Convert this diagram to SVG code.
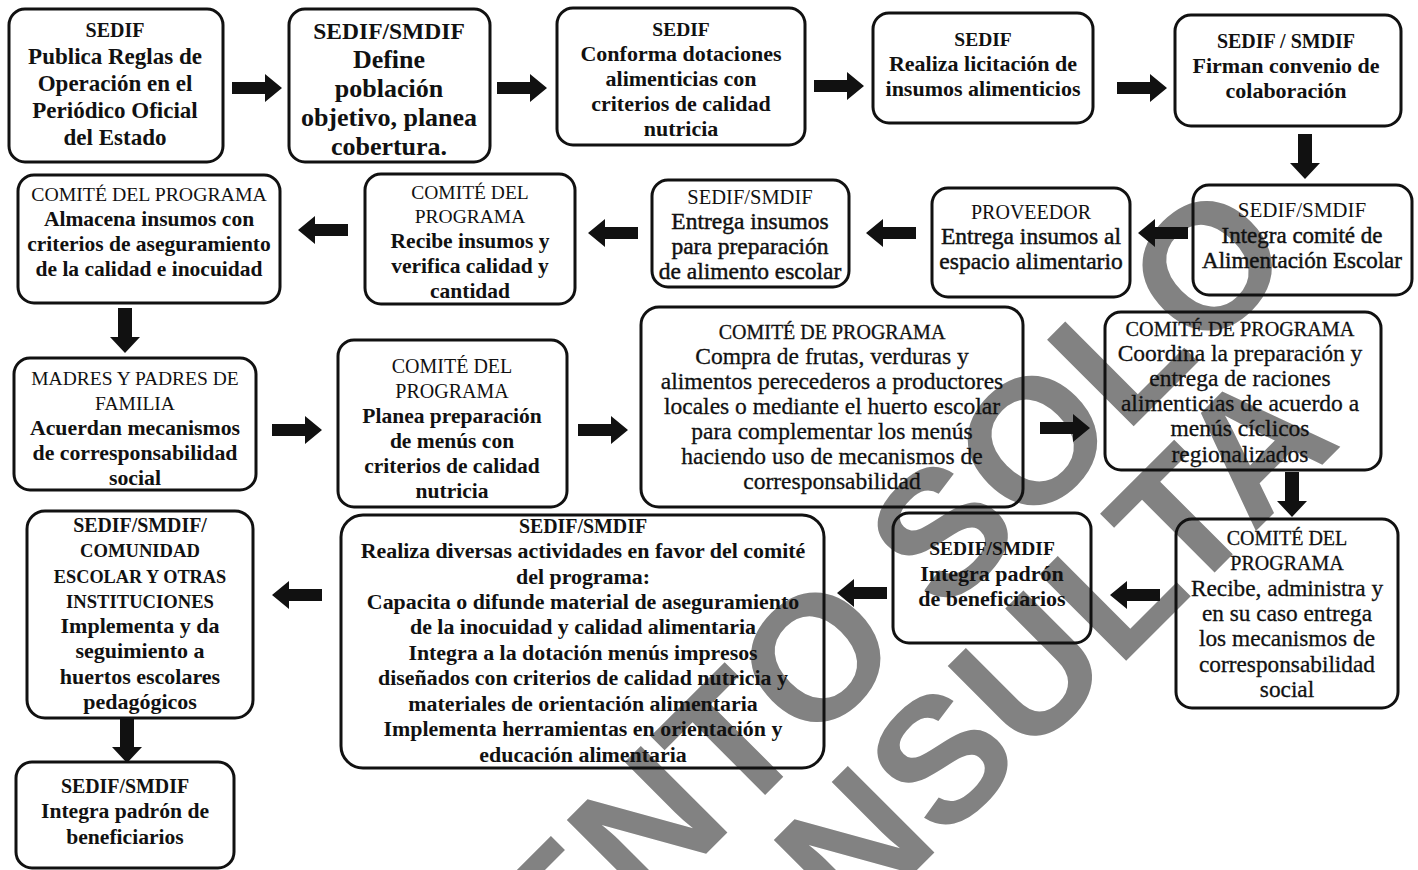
<svg xmlns="http://www.w3.org/2000/svg" xmlns:xlink="http://www.w3.org/1999/xlink" width="1418" height="870" viewBox="0 0 1418 870">
<style>
.box{fill:none;stroke:#111;stroke-width:3}
.t{font-family:'Liberation Serif','Times New Roman',serif;text-anchor:middle;fill:#111}
.b{font-weight:bold}
.r{font-weight:normal}
.m{stroke:#111;stroke-width:0.45}
.n{stroke:#111;stroke-width:0.3}
.wm{font-family:'Liberation Sans',Arial,sans-serif;font-weight:bold;font-size:178px;fill:#828282}
.arr{fill:#111}
</style>
<defs>
<path id="ah" d="M0,-6 H33 V-14 L50,0 L33,14 V6 H0 Z"/>
<path id="av" d="M0,-7 H29 V-15 L45,0 L29,15 V7 H0 Z"/>
</defs>
<rect width="1418" height="870" fill="#fff"/>
<g id="watermark">
<text class="wm" transform="translate(561,999) rotate(-45)">ENTO SOLO</text>
<text class="wm" transform="translate(852,935) rotate(-45)">NSULTA</text>
</g>
<g id="connectors" class="arr">
<use xlink:href="#ah" transform="translate(232,88)"/>
<use xlink:href="#ah" transform="translate(497,88)"/>
<use xlink:href="#ah" transform="translate(814,86)"/>
<use xlink:href="#ah" transform="translate(1117,88)"/>
<use xlink:href="#av" transform="translate(1305,134) rotate(90)"/>
<use xlink:href="#ah" transform="translate(1188,233) rotate(180)"/>
<use xlink:href="#ah" transform="translate(916,233) rotate(180)"/>
<use xlink:href="#ah" transform="translate(638,233) rotate(180)"/>
<use xlink:href="#ah" transform="translate(348,230) rotate(180)"/>
<use xlink:href="#av" transform="translate(125,308) rotate(90)"/>
<use xlink:href="#ah" transform="translate(272,430)"/>
<use xlink:href="#ah" transform="translate(578,430)"/>
<use xlink:href="#ah" transform="translate(1040,428)"/>
<use xlink:href="#av" transform="translate(1292,472) rotate(90)"/>
<use xlink:href="#ah" transform="translate(1160,595) rotate(180)"/>
<use xlink:href="#ah" transform="translate(887,593) rotate(180)"/>
<use xlink:href="#ah" transform="translate(322,595) rotate(180)"/>
<use xlink:href="#av" transform="translate(127,718) rotate(90)"/>
</g>
<g id="n1">
<rect class="box" x="9" y="9" width="214" height="153" rx="16"/>
<text class="t b" font-size="23"><tspan x="115" y="37" font-size="20">SEDIF</tspan><tspan x="115" y="64">Publica Reglas de</tspan><tspan x="115" y="91">Operación en el</tspan><tspan x="115" y="118">Periódico Oficial</tspan><tspan x="115" y="145">del Estado</tspan></text>
</g>
<g id="n2">
<rect class="box" x="289" y="9" width="201" height="153" rx="16"/>
<text class="t b" font-size="26"><tspan x="389" y="39" font-size="23.5">SEDIF/SMDIF</tspan><tspan x="389" y="68">Define</tspan><tspan x="389" y="97">población</tspan><tspan x="389" y="126">objetivo, planea</tspan><tspan x="389" y="155">cobertura.</tspan></text>
</g>
<g id="n3">
<rect class="box" x="557" y="8" width="248" height="137" rx="16"/>
<text class="t b" font-size="22"><tspan x="681" y="36" font-size="19.5">SEDIF</tspan><tspan x="681" y="61">Conforma dotaciones</tspan><tspan x="681" y="86">alimenticias con</tspan><tspan x="681" y="111">criterios de calidad</tspan><tspan x="681" y="136">nutricia</tspan></text>
</g>
<g id="n4">
<rect class="box" x="873" y="13" width="220" height="110" rx="16"/>
<text class="t b" font-size="22"><tspan x="983" y="46" font-size="19.5">SEDIF</tspan><tspan x="983" y="71">Realiza licitación de</tspan><tspan x="983" y="96">insumos alimenticios</tspan></text>
</g>
<g id="n5">
<rect class="box" x="1175" y="15" width="226" height="111" rx="16"/>
<text class="t b" font-size="22"><tspan x="1286" y="48" font-size="20">SEDIF / SMDIF</tspan><tspan x="1286" y="73">Firman convenio de</tspan><tspan x="1286" y="98">colaboración</tspan></text>
</g>
<g id="n6">
<rect class="box" x="1193" y="185" width="219" height="110" rx="16"/>
<text class="t r" font-size="23"><tspan x="1302" y="217" font-size="21">SEDIF/SMDIF</tspan><tspan x="1302" y="243" class="m">Integra comité de</tspan><tspan x="1302" y="268" class="m">Alimentación Escolar</tspan></text>
</g>
<g id="n7">
<rect class="box" x="932" y="188" width="198" height="109" rx="16"/>
<text class="t r" font-size="23.5"><tspan x="1031" y="219" font-size="20">PROVEEDOR</tspan><tspan x="1031" y="244" class="m">Entrega insumos al</tspan><tspan x="1031" y="269" class="m">espacio alimentario</tspan></text>
</g>
<g id="n8">
<rect class="box" x="652" y="180" width="197" height="107" rx="16"/>
<text class="t r" font-size="23.5"><tspan x="750" y="204" font-size="20.5">SEDIF/SMDIF</tspan><tspan x="750" y="229" class="m">Entrega insumos</tspan><tspan x="750" y="254" class="m">para preparación</tspan><tspan x="750" y="279" class="m">de alimento escolar</tspan></text>
</g>
<g id="n9">
<rect class="box" x="365" y="174" width="210" height="130" rx="16"/>
<text class="t b" font-size="21.5"><tspan x="470" y="199" font-size="19.5" class="r">COMITÉ DEL</tspan><tspan x="470" y="223" font-size="19.5" class="r">PROGRAMA</tspan><tspan x="470" y="248">Recibe insumos y</tspan><tspan x="470" y="273">verifica calidad y</tspan><tspan x="470" y="298">cantidad</tspan></text>
</g>
<g id="n10">
<rect class="box" x="18" y="175" width="262" height="128" rx="16"/>
<text class="t b" font-size="21.5"><tspan x="149" y="201" font-size="19.8" class="r">COMITÉ DEL PROGRAMA</tspan><tspan x="149" y="226">Almacena insumos con</tspan><tspan x="149" y="251">criterios de aseguramiento</tspan><tspan x="149" y="276">de la calidad e inocuidad</tspan></text>
</g>
<g id="n11">
<rect class="box" x="14" y="358" width="242" height="132" rx="16"/>
<text class="t b" font-size="21.8"><tspan x="135" y="385" font-size="19.5" class="r">MADRES Y PADRES DE</tspan><tspan x="135" y="410" font-size="19.5" class="r">FAMILIA</tspan><tspan x="135" y="435">Acuerdan mecanismos</tspan><tspan x="135" y="460">de corresponsabilidad</tspan><tspan x="135" y="485">social</tspan></text>
</g>
<g id="n12">
<rect class="box" x="338" y="340" width="229" height="167" rx="16"/>
<text class="t b" font-size="21.5"><tspan x="452" y="373" font-size="20" class="r">COMITÉ DEL</tspan><tspan x="452" y="398" font-size="20" class="r">PROGRAMA</tspan><tspan x="452" y="423">Planea preparación</tspan><tspan x="452" y="448">de menús con</tspan><tspan x="452" y="473">criterios de calidad</tspan><tspan x="452" y="498">nutricia</tspan></text>
</g>
<g id="n13">
<rect class="box" x="641" y="307" width="382" height="200" rx="18"/>
<text class="t r n" font-size="23.5"><tspan x="832" y="339" font-size="20">COMITÉ DE PROGRAMA</tspan><tspan x="832" y="364">Compra de frutas, verduras y</tspan><tspan x="832" y="389">alimentos perecederos a productores</tspan><tspan x="832" y="414">locales o mediante el huerto escolar</tspan><tspan x="832" y="439">para complementar los menús</tspan><tspan x="832" y="464">haciendo uso de mecanismos de</tspan><tspan x="832" y="489">corresponsabilidad</tspan></text>
</g>
<g id="n14">
<rect class="box" x="1105" y="312" width="276" height="158" rx="16"/>
<text class="t r n" font-size="23.5"><tspan x="1240" y="336" font-size="20.2">COMITÉ DE PROGRAMA</tspan><tspan x="1240" y="361">Coordina la preparación y</tspan><tspan x="1240" y="386">entrega de raciones</tspan><tspan x="1240" y="411">alimenticias de acuerdo a</tspan><tspan x="1240" y="436">menús cíclicos</tspan><tspan x="1240" y="462">regionalizados</tspan></text>
</g>
<g id="n15">
<rect class="box" x="1176" y="519" width="222" height="189" rx="16"/>
<text class="t r n" font-size="23.3"><tspan x="1287" y="545" font-size="20">COMITÉ DEL</tspan><tspan x="1287" y="570" font-size="20">PROGRAMA</tspan><tspan x="1287" y="596">Recibe, administra y</tspan><tspan x="1287" y="621">en su caso entrega</tspan><tspan x="1287" y="646">los mecanismos de</tspan><tspan x="1287" y="672">corresponsabilidad</tspan><tspan x="1287" y="697">social</tspan></text>
</g>
<g id="n16">
<rect class="box" x="893" y="513" width="198" height="130" rx="16"/>
<text class="t b" font-size="22"><tspan x="992" y="555" font-size="19.5">SEDIF/SMDIF</tspan><tspan x="992" y="581">Integra padrón</tspan><tspan x="992" y="606">de beneficiarios</tspan></text>
</g>
<g id="n17">
<rect class="box" x="341" y="515" width="483" height="253" rx="22"/>
<text class="t b" font-size="21.9"><tspan x="583" y="533" font-size="19.9">SEDIF/SMDIF</tspan><tspan x="583" y="558">Realiza diversas actividades en favor del comité</tspan><tspan x="583" y="584">del programa:</tspan><tspan x="583" y="609">Capacita o difunde material de aseguramiento</tspan><tspan x="583" y="634">de la inocuidad y calidad alimentaria</tspan><tspan x="583" y="660">Integra a la dotación menús impresos</tspan><tspan x="583" y="685">diseñados con criterios de calidad nutricia y</tspan><tspan x="583" y="711">materiales de orientación alimentaria</tspan><tspan x="583" y="736">Implementa herramientas en orientación y</tspan><tspan x="583" y="762">educación alimentaria</tspan></text>
</g>
<g id="n18">
<rect class="box" x="27" y="511" width="226" height="207" rx="18"/>
<text class="t b" font-size="22"><tspan x="140" y="532" font-size="19.9">SEDIF/SMDIF/</tspan><tspan x="140" y="557" font-size="18.6">COMUNIDAD</tspan><tspan x="140" y="583" font-size="18.3">ESCOLAR Y OTRAS</tspan><tspan x="140" y="608" font-size="18.6">INSTITUCIONES</tspan><tspan x="140" y="633">Implementa y da</tspan><tspan x="140" y="658">seguimiento a</tspan><tspan x="140" y="684">huertos escolares</tspan><tspan x="140" y="709">pedagógicos</tspan></text>
</g>
<g id="n19">
<rect class="box" x="16" y="762" width="218" height="106" rx="16"/>
<text class="t b" font-size="21.6"><tspan x="125" y="793" font-size="19.9">SEDIF/SMDIF</tspan><tspan x="125" y="818">Integra padrón de</tspan><tspan x="125" y="844">beneficiarios</tspan></text>
</g>
</svg>
